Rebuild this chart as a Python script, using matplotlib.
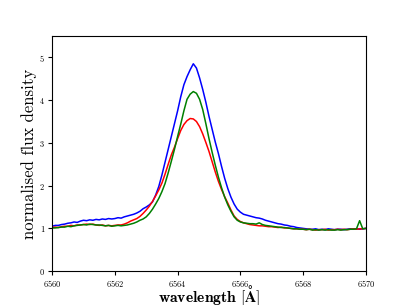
import numpy as np
import matplotlib
matplotlib.use("Agg")
import matplotlib.pyplot as plt

plt.rcParams["mathtext.fontset"] = "cm"
plt.rcParams["font.family"] = ["cmr10", "DejaVu Serif"]
plt.rcParams["axes.formatter.use_mathtext"] = True

# wavelength grid [A], 0.1 A steps
wave = np.round(np.arange(6560.0, 6570.01, 0.1), 1)

flux_blue = [
    1.05, 1.07, 1.07, 1.09, 1.10, 1.12, 1.13, 1.15, 1.14, 1.17,
    1.19, 1.18, 1.20, 1.19, 1.21, 1.20, 1.22, 1.21, 1.23, 1.22,
    1.23, 1.25, 1.24, 1.27, 1.29, 1.31, 1.33, 1.36, 1.40, 1.46,
    1.50, 1.55, 1.62, 1.78, 1.98, 2.25, 2.55, 2.85, 3.15, 3.45,
    3.75, 4.08, 4.36, 4.55, 4.71, 4.85, 4.75, 4.52, 4.25, 3.95,
    3.62, 3.32, 3.02, 2.75, 2.45, 2.17, 1.93, 1.73, 1.57, 1.45,
    1.38, 1.33, 1.31, 1.29, 1.27, 1.25, 1.24, 1.22, 1.19, 1.17,
    1.15, 1.13, 1.11, 1.10, 1.08, 1.07, 1.05, 1.04, 1.02, 1.01,
    1.00, 0.99, 0.98, 0.98, 0.99, 0.97, 0.98, 0.97, 0.99, 0.98,
    0.97, 0.98, 0.98, 0.97, 0.98, 0.99, 0.98, 0.99, 0.98, 0.99,
    1.00,
]

flux_red = [
    1.02, 1.03, 1.02, 1.04, 1.05, 1.05, 1.07, 1.06, 1.08, 1.08,
    1.09, 1.10, 1.09, 1.10, 1.08, 1.07, 1.08, 1.06, 1.07, 1.06,
    1.07, 1.08, 1.08, 1.10, 1.13, 1.17, 1.20, 1.23, 1.28, 1.35,
    1.43, 1.52, 1.63, 1.76, 1.90, 2.06, 2.27, 2.50, 2.72, 2.90,
    3.10, 3.29, 3.43, 3.52, 3.57, 3.56, 3.50, 3.38, 3.21, 3.01,
    2.80, 2.56, 2.32, 2.10, 1.91, 1.74, 1.59, 1.43, 1.29, 1.21,
    1.16, 1.13, 1.11, 1.09, 1.08, 1.07, 1.06, 1.06, 1.05, 1.04,
    1.04, 1.03, 1.02, 1.03, 1.01, 1.01, 1.00, 0.99, 0.99, 0.98,
    0.98, 0.97, 0.98, 0.97, 0.96, 0.97, 0.97, 0.98, 0.96, 0.97,
    0.97, 0.98, 0.97, 0.98, 0.97, 0.98, 0.99, 0.98, 0.99, 0.99,
    1.00,
]

flux_green = [
    1.01, 1.01, 1.02, 1.03, 1.03, 1.05, 1.04, 1.06, 1.07, 1.08,
    1.09, 1.08, 1.10, 1.09, 1.08, 1.08, 1.07, 1.06, 1.07, 1.05,
    1.06, 1.07, 1.06, 1.07, 1.08, 1.10, 1.12, 1.15, 1.19, 1.22,
    1.27, 1.35, 1.45, 1.57, 1.70, 1.86, 2.05, 2.30, 2.57, 2.85,
    3.15, 3.44, 3.75, 4.02, 4.14, 4.20, 4.16, 4.02, 3.78, 3.45,
    3.10, 2.78, 2.48, 2.20, 1.95, 1.73, 1.55, 1.40, 1.27, 1.19,
    1.15, 1.13, 1.12, 1.11, 1.11, 1.10, 1.13, 1.09, 1.07, 1.06,
    1.05, 1.04, 1.03, 1.02, 1.02, 1.01, 1.00, 0.99, 0.99, 0.98,
    0.98, 0.97, 0.98, 0.96, 0.97, 0.96, 0.97, 0.96, 0.97, 0.96,
    0.96, 0.97, 0.96, 0.97, 0.97, 0.98, 0.98, 0.99, 1.18, 0.99,
    1.00,
]

fig = plt.figure(figsize=(4.07, 3.05), dpi=100)
ax = fig.add_axes([0.128, 0.111, 0.771, 0.771])

ax.plot(wave, flux_blue, color="blue", lw=1.1)
ax.plot(wave, flux_red, color="red", lw=1.1)
ax.plot(wave, flux_green, color="green", lw=1.1)

ax.set_xlim(6560, 6570)
ax.set_ylim(0, 5.5)
ax.set_xticks(np.arange(6560, 6571, 2))
ax.set_yticks(range(0, 6))
ax.tick_params(labelsize=6, length=3, width=0.8, pad=2)

ax.set_xlabel(r"$\mathbf{wavelength\ [\AA]}$", fontsize=11.3, labelpad=-4)
ax.set_ylabel("normalised flux density", fontsize=12, labelpad=1.5)

fig.savefig("out.png", dpi=100)
